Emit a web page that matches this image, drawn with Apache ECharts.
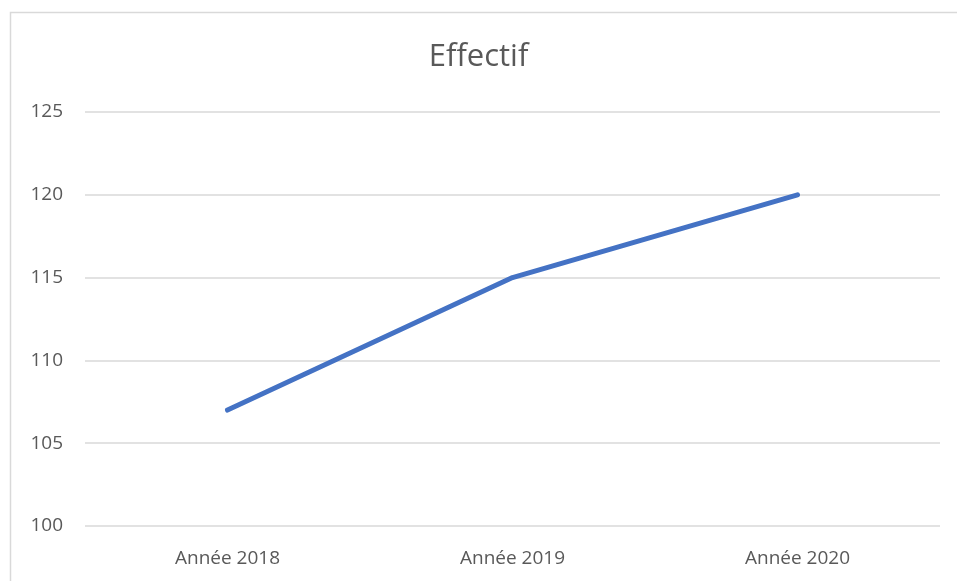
<!DOCTYPE html>
<html>
<head>
<meta charset="utf-8">
<script src="https://cdn.jsdelivr.net/npm/echarts@6/dist/echarts.min.js"></script>
<style>
  html, body { margin: 0; padding: 0; background: #fff; }
  #chart { width: 957px; height: 581px; }
</style>
</head>
<body>
<div id="chart"></div>
<script>
  const categories = ['Année 2018', 'Année 2019', 'Année 2020'];
  const effectif = [107, 115, 120];
  const yTicks = [100, 105, 110, 115, 120, 125];

  const chart = echarts.init(document.getElementById('chart'));
  chart.setOption({
    animation: false,
    textStyle: { fontFamily: '"Open Sans", "Noto Sans", sans-serif' },
    graphic: [{
      type: 'rect',
      shape: { x: 10.5, y: 12.5, width: 1000, height: 700 },
      style: { fill: 'none', stroke: '#d9d9d9', lineWidth: 1.5 },
      silent: true
    }],
    title: {
      text: 'Effectif',
      left: 'center',
      top: 37,
      textStyle: { color: '#595959', fontSize: 31, fontWeight: 'normal' }
    },
    grid: { left: 85, right: 17, top: 112, bottom: 55 },
    xAxis: {
      type: 'category',
      data: categories,
      boundaryGap: true,
      axisLine: { show: false },
      axisTick: { show: false },
      axisLabel: { color: '#595959', fontSize: 19, margin: 23 }
    },
    yAxis: {
      type: 'value',
      min: yTicks[0],
      max: yTicks[yTicks.length - 1],
      interval: 5,
      axisLine: { show: false },
      axisTick: { show: false },
      axisLabel: { color: '#595959', fontSize: 19, margin: 22 },
      splitLine: { lineStyle: { color: '#d9d9d9', width: 1.5 } }
    },
    series: [{
      type: 'line',
      data: effectif,
      symbol: 'none',
      lineStyle: { color: '#4472c4', width: 5, cap: 'round', join: 'round' },
      itemStyle: { color: '#4472c4' }
    }]
  });
</script>
</body>
</html>
